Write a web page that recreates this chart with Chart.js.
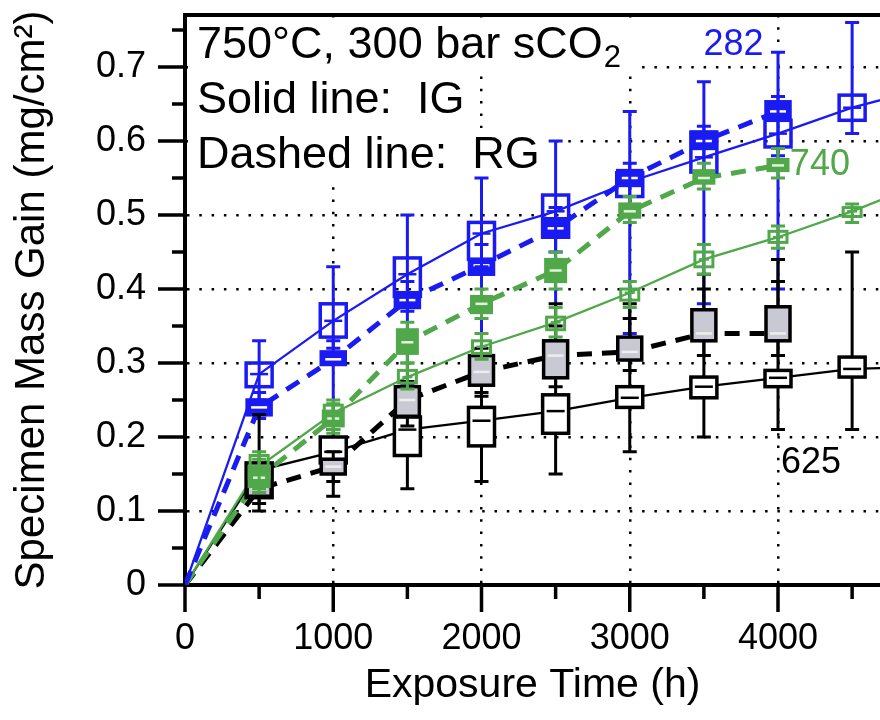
<!DOCTYPE html>
<html>
<head>
<meta charset="utf-8">
<script src="https://cdn.jsdelivr.net/npm/chart.js@4/dist/chart.umd.min.js"></script>
<style>html,body{margin:0;padding:0;background:#fff}</style>
</head>
<body>
<canvas id="massGain" width="880" height="720"></canvas>
<script>
// exposure times (h)
const times = [0, 500, 1000, 1500, 2000, 2500, 3000, 3500, 4000, 4500, 5000];
const xTicks = [0, 500, 1000, 1500, 2000, 2500, 3000, 3500, 4000, 4500];

// line values (mg/cm2): IG = solid, RG = dashed
const blueIG  = [0, 0.285, 0.357, 0.42, 0.475, 0.505, 0.545, 0.578, 0.61, 0.645, 0.672];
const blueRG  = [0, 0.24, 0.305, 0.385, 0.432, 0.482, 0.55, 0.60, 0.64];
const greenIG = [0, 0.16, 0.232, 0.281, 0.322, 0.355, 0.395, 0.44, 0.47, 0.505, 0.545];
const greenRG = [0, 0.145, 0.225, 0.328, 0.38, 0.425, 0.505, 0.55, 0.567];
const blackIG = [0, 0.155, 0.18, 0.21, 0.222, 0.235, 0.253, 0.268, 0.28, 0.292, 0.295];
const blackRG = [0, 0.13, 0.16, 0.25, 0.288, 0.31, 0.315, 0.34, 0.34];

// box stats from 500 h on: [whisker low, box low, box high, whisker high]
const blueIGBox = [[0.25,0.268,0.30,0.33],[0.32,0.335,0.38,0.43],[0.37,0.39,0.442,0.50],[0.43,0.44,0.49,0.55],
  [0.45,0.47,0.527,0.60],[0.51,0.525,0.557,0.64],[0.55,0.558,0.612,0.68],[0.58,0.592,0.628,0.72],[0.61,0.628,0.662,0.76]];
const blueRGBox = [[0.225,0.23,0.25,0.26],[0.22,0.298,0.315,0.33],[0.27,0.375,0.395,0.41],[0.31,0.42,0.44,0.46],
  [0.33,0.47,0.495,0.51],[0.34,0.54,0.56,0.57],[0.38,0.59,0.612,0.62],[0.40,0.63,0.653,0.66]];
const greenIGBox = [[0.13,0.14,0.175,0.18],[0.21,0.22,0.243,0.25],[0.265,0.273,0.29,0.30],[0.305,0.313,0.33,0.34],
  [0.335,0.345,0.362,0.375],[0.375,0.385,0.40,0.41],[0.42,0.43,0.45,0.46],[0.455,0.463,0.478,0.485],[0.49,0.498,0.51,0.515]];
const greenRGBox = [[0.125,0.133,0.16,0.17],[0.205,0.215,0.235,0.245],[0.30,0.313,0.345,0.355],[0.36,0.368,0.39,0.40],
  [0.40,0.41,0.44,0.45],[0.49,0.497,0.515,0.525],[0.535,0.543,0.56,0.57],[0.55,0.56,0.575,0.59]];
const blackIGBox = [[0.10,0.118,0.165,0.23],[0.12,0.165,0.20,0.21],[0.13,0.175,0.227,0.24],[0.14,0.188,0.24,0.26],
  [0.15,0.205,0.257,0.38],[0.18,0.24,0.268,0.38],[0.20,0.253,0.281,0.42],[0.21,0.268,0.29,0.44],[0.21,0.281,0.308,0.45]];
const blackRGBox = [[0.11,0.12,0.14,0.15],[0.14,0.15,0.17,0.18],[0.215,0.228,0.268,0.275],[0.255,0.27,0.31,0.32],
  [0.268,0.28,0.33,0.35],[0.29,0.304,0.335,0.36],[0.31,0.33,0.372,0.40],[0.31,0.33,0.376,0.41]];

// curve labels: [text, time, value]
const curveLabels = [['282', 3700, 0.73], ['740', 4080, 0.567], ['625', 4020, 0.165]];

const FONT = '"Liberation Sans", Arial, Helvetica, sans-serif';
const BLUE = '#1a1af2';
const GREEN = '#50a84a';
const GREY = '#c9c9d3';

const pts = vals => vals.map((v, i) => ({x: times[i], y: v}));
const isMult = (v, m) => Math.abs(v / m - Math.round(v / m)) < 1e-6;

function series(label, vals, box, color, dashed, style) {
  return {
    label, data: pts(vals), borderColor: color, backgroundColor: color,
    borderWidth: dashed ? 5 : 2.3, borderDash: dashed ? [15, 10] : [],
    pointRadius: 0, tension: 0, box, boxStyle: style
  };
}

const datasets = [
  series('blue IG', blueIG, blueIGBox, BLUE, false, {fill: null, med: BLUE, w: 26, through: true, color: BLUE}),
  series('blue RG', blueRG, blueRGBox, BLUE, true, {fill: BLUE, med: '#fff', w: 24, through: false, color: BLUE}),
  series('green IG', greenIG, greenIGBox, GREEN, false, {fill: null, med: GREEN, w: 18, through: true, color: GREEN}),
  series('green RG', greenRG, greenRGBox, GREEN, true, {fill: GREEN, med: '#e4f4dc', w: 20, through: false, color: GREEN}),
  series('black IG', blackIG, blackIGBox, '#000', false, {fill: '#fff', med: '#000', w: 26, through: false, color: '#000'}),
  series('black RG', blackRG, blackRGBox, '#000', true, {fill: GREY, med: '#eee', w: 24, through: false, color: '#000'})
];

// order in which the box markers are stacked
const boxOrder = [1, 0, 4, 5, 3, 2];

function drawBox(ctx, xs, ys, t, st, med, s) {
  const px = xs.getPixelForValue(t);
  const [wl, bl, bh, wh] = st.map(v => ys.getPixelForValue(v));
  const pm = ys.getPixelForValue(med);
  const hw = s.w / 2, cap = 7;
  ctx.lineWidth = 3;
  ctx.strokeStyle = s.color;
  const whisker = () => {
    ctx.beginPath();
    ctx.moveTo(px, wl); ctx.lineTo(px, wh);
    ctx.moveTo(px - cap, wl); ctx.lineTo(px + cap, wl);
    ctx.moveTo(px - cap, wh); ctx.lineTo(px + cap, wh);
    ctx.stroke();
  };
  if (!s.through) whisker();
  if (s.fill) { ctx.fillStyle = s.fill; ctx.fillRect(px - hw, bh, s.w, bl - bh); }
  if (s.through) whisker();
  ctx.lineWidth = s.w < 22 ? 3 : 3.5;
  ctx.strokeRect(px - hw, bh, s.w, bl - bh);
  ctx.strokeStyle = s.med;
  ctx.lineWidth = 2.5;
  ctx.beginPath();
  ctx.moveTo(px - hw + 4, pm); ctx.lineTo(px + hw - 4, pm);
  ctx.stroke();
}

const decor = {
  id: 'decor',
  beforeDatasetsDraw(chart) {
    const {ctx, chartArea: a} = chart;
    ctx.save();
    ctx.font = '45px ' + FONT;
    ctx.textBaseline = 'alphabetic';
    const x0 = a.left + 12;
    const rows = [['750°C, 300 bar sCO', 43, true], ['Solid line:  IG', 98, false], ['Dashed line:  RG', 153, false]];
    rows.forEach(([txt, dy, sub]) => {
      const w = ctx.measureText(txt).width + (sub ? 22 : 0);
      ctx.fillStyle = '#fff';
      ctx.fillRect(a.left + 3, a.top + dy - 40, w + 18, 55);
    });
    ctx.fillStyle = '#000';
    rows.forEach(([txt, dy, sub]) => {
      ctx.font = '45px ' + FONT;
      ctx.fillText(txt, x0, a.top + dy);
      if (sub) {
        const w = ctx.measureText(txt).width;
        ctx.font = '31px ' + FONT;
        ctx.fillText('2', x0 + w + 1, a.top + dy + 9);
      }
    });
    ctx.restore();
  },
  afterDatasetsDraw(chart) {
    const {ctx, scales: {x: xs, y: ys}} = chart;
    ctx.save();
    boxOrder.forEach(i => {
      const ds = chart.data.datasets[i];
      ds.box.forEach((st, k) => drawBox(ctx, xs, ys, times[k + 1], st, ds.data[k + 1].y, ds.boxStyle));
    });
    ctx.font = '36px ' + FONT;
    ctx.textBaseline = 'middle';
    const cols = [BLUE, GREEN, '#000'];
    curveLabels.forEach(([txt, t, v], i) => {
      ctx.fillStyle = cols[i];
      ctx.textAlign = i === 0 ? 'center' : 'left';
      ctx.fillText(txt, xs.getPixelForValue(t), ys.getPixelForValue(v));
    });
    ctx.restore();
  },
  afterDraw(chart) {
    const {ctx, chartArea: a, scales: {x: xs, y: ys}} = chart;
    ctx.save();
    ctx.strokeStyle = '#000';
    ctx.lineWidth = 3.5;
    ctx.beginPath();
    xs.ticks.forEach(t => {
      const p = xs.getPixelForValue(t.value);
      ctx.moveTo(p, a.bottom); ctx.lineTo(p, a.bottom + (isMult(t.value, 1000) ? 27 : 14));
    });
    ys.ticks.forEach(t => {
      const p = ys.getPixelForValue(t.value);
      ctx.moveTo(a.left, p); ctx.lineTo(a.left - (isMult(t.value, 0.1) ? 27 : 13), p);
    });
    ctx.stroke();
    ctx.lineWidth = 4;
    ctx.beginPath();
    ctx.moveTo(a.left - 2, a.top); ctx.lineTo(a.right, a.top);
    ctx.stroke();
    ctx.restore();
  }
};

const dotted = (major) => ({
  drawTicks: false,
  lineWidth: 2.5,
  color: c => (c.tick && major(c.tick.value)) ? '#000' : 'rgba(0,0,0,0)'
});
const frame = {display: true, width: 4, color: '#000', dash: [2.5, 9.8]};

new Chart(document.getElementById('massGain'), {
  type: 'line',
  data: {datasets},
  options: {
    responsive: false,
    animation: false,
    devicePixelRatio: 1,
    layout: {padding: {top: 15, right: 0, left: 0, bottom: 0}},
    plugins: {legend: {display: false}, tooltip: {enabled: false}},
    scales: {
      x: {
        type: 'linear', min: 0, max: 4688,
        afterBuildTicks: s => { s.ticks = xTicks.map(v => ({value: v})); },
        afterFit: s => { s.height = 135; s.paddingLeft = 0; s.paddingRight = 0; },
        grid: dotted(v => v > 1 && isMult(v, 1000)),
        border: frame,
        ticks: {
          autoSkip: false, maxRotation: 0,
          padding: 32, color: '#000', font: {family: FONT, size: 36},
          callback: v => isMult(v, 1000) ? String(Math.round(v)) : ''
        },
        title: {display: true, text: 'Exposure Time (h)', color: '#000',
          font: {family: FONT, size: 41, lineHeight: 1}, padding: {top: 0, bottom: 14}}
      },
      y: {
        min: 0, max: 0.7703,
        afterFit: s => { s.width = 185; s.paddingTop = 0; s.paddingBottom = 0; },
        grid: dotted(v => v > 0.01 && isMult(v, 0.1)),
        border: frame,
        ticks: {
          stepSize: 0.05, includeBounds: false, autoSkip: false,
          padding: 39, color: '#000', font: {family: FONT, size: 36},
          callback: v => { const k = Math.round(v * 20); return k % 2 ? '' : (k === 0 ? '0' : (k / 20).toFixed(1)); }
        },
        title: {display: true, text: 'Specimen Mass Gain (mg/cm²)', color: '#000',
          font: {family: FONT, size: 42, lineHeight: 1}, padding: {top: 11, bottom: 0}}
      }
    }
  },
  plugins: [decor]
});
</script>
</body>
</html>
